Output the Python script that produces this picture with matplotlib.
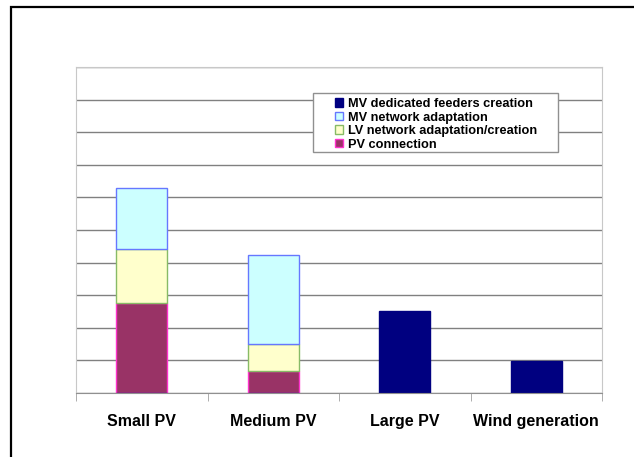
import matplotlib
matplotlib.use("Agg")
import matplotlib.pyplot as plt
from matplotlib.patches import Rectangle
import numpy as np

categories = ["Small PV", "Medium PV", "Large PV", "Wind generation"]
pv_connection = [2.76, 0.67, 0.0, 0.0]
lv_adaptation = [1.66, 0.83, 0.0, 0.0]
mv_adaptation = [1.87, 2.73, 0.0, 0.0]
mv_dedicated = [0.0, 0.0, 2.52, 0.98]

plt.rcParams['font.family'] = ['Liberation Sans', 'DejaVu Sans']

fig = plt.figure(figsize=(6.34, 4.57), dpi=100)
W, H = 634, 457

# outer chart frame (cut off on the right and bottom)
fig.patches.append(Rectangle((11 / W, -0.1), 1.2, 1 - 7 / H + 0.1, transform=fig.transFigure,
                             fill=False, edgecolor="black", linewidth=1.6))

ax = fig.add_axes([76 / W, 1 - 393 / H, 526 / W, 326 / H])
x = np.arange(len(categories))
w = 0.39

b1 = np.array(pv_connection)
b2 = b1 + np.array(lv_adaptation)

ax.set_axisbelow(True)
ax.yaxis.grid(True, color="#808080", linewidth=1)

h_pv = ax.bar(x, pv_connection, w, color="#993366", edgecolor="#ff33cc", linewidth=1)
h_lv = ax.bar(x, lv_adaptation, w, bottom=b1, color="#ffffcc", edgecolor="#88bb66", linewidth=1)
h_mv = ax.bar(x, mv_adaptation, w, bottom=b2, color="#ccffff", edgecolor="#6677ff", linewidth=1)
h_md = ax.bar(x, mv_dedicated, w, color="#000080", edgecolor="#000080", linewidth=1)

ax.set_xlim(-0.5, 3.5)
ax.set_ylim(0, 10)
ax.set_yticks(np.arange(0, 11, 1))
ax.set_yticklabels([])
ax.tick_params(axis="y", length=0)
ax.set_xticks(x)
ax.set_xticklabels(categories, fontsize=11.5, fontweight="bold")
ax.tick_params(axis="x", length=0, pad=15)
ax.set_xticks(np.arange(-0.5, 4, 1), minor=True)
ax.tick_params(axis="x", which="minor", length=6, color="#a0a0a0", direction="out")

for s in ["top", "right", "left"]:
    ax.spines[s].set_color("#c8c8c8")
ax.spines["bottom"].set_color("#909090")

# legend box drawn separately so it can match the reference width
box = Rectangle((313 / W, 1 - 152 / H), 245 / W, 59 / H, transform=fig.transFigure,
                facecolor="white", edgecolor="#909090", linewidth=1, zorder=4, clip_on=False)
ax.add_patch(box)

leg = ax.legend([h_md, h_mv, h_lv, h_pv],
                ["MV dedicated feeders creation", "MV network adaptation",
                 "LV network adaptation/creation", "PV connection"],
                loc="upper left", bbox_to_anchor=(335 / W, 1 - 98 / H),
                bbox_transform=fig.transFigure,
                prop={"size": 9.2, "weight": "bold"}, frameon=False,
                handlelength=0.65, handleheight=0.65,
                handletextpad=0.35, labelspacing=0.12, borderpad=0, borderaxespad=0)
leg.set_zorder(5)

fig.savefig("out.png", dpi=100)
